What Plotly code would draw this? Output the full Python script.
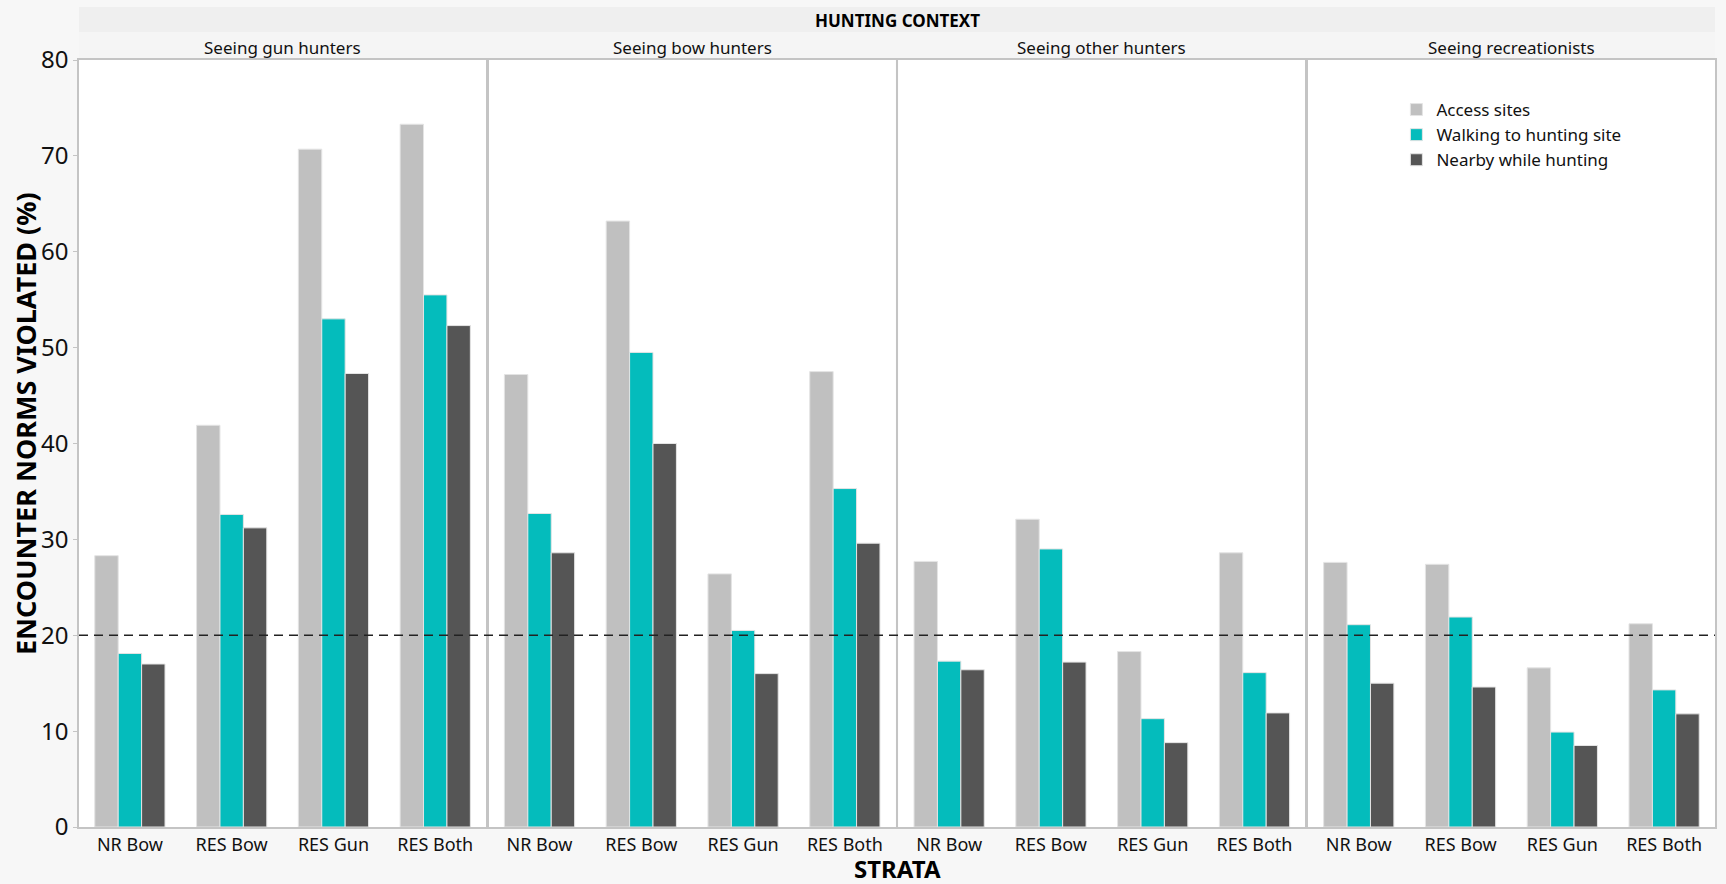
import plotly.graph_objects as go
from plotly.subplots import make_subplots

# ---------------- data ----------------
contexts = ["Seeing gun hunters", "Seeing bow hunters", "Seeing other hunters", "Seeing recreationists"]
strata = ["NR Bow", "RES Bow", "RES Gun", "RES Both"]
series_names = ["Access sites", "Walking to hunting site", "Nearby while hunting"]

# values ordered by context (4 strata each)
access_sites = [28.3, 41.9, 70.7, 73.3,
                47.2, 63.2, 26.4, 47.5,
                27.7, 32.1, 18.3, 28.6,
                27.6, 27.4, 16.6, 21.2]
walking_to_site = [18.1, 32.6, 53.0, 55.5,
                   32.7, 49.5, 20.5, 35.3,
                   17.3, 29.0, 11.3, 16.1,
                   21.1, 21.9, 9.9, 14.3]
nearby_hunting = [17.0, 31.2, 47.3, 52.3,
                  28.6, 40.0, 16.0, 29.6,
                  16.4, 17.2, 8.8, 11.9,
                  15.0, 14.6, 8.5, 11.8]
norm_threshold = 20
y_ticks = [0, 10, 20, 30, 40, 50, 60, 70, 80]

colors = ["#c0c0c0", "#04bcbc", "#555555"]
series_values = [access_sites, walking_to_site, nearby_hunting]

# ---------------- layout geometry (pixels) ----------------
W, H = 1726, 884
ML, MR, MT, MB = 79, 9, 60, 57
PW = W - ML - MR
PH = H - MT - MB


def px_x(px):
    return (px - ML) / PW


def px_y(py):
    return (H - MB - py) / PH


FONT = "Noto Sans, Open Sans, sans-serif"

fig = make_subplots(rows=1, cols=4, shared_yaxes=True,
                    horizontal_spacing=2.5 / PW)

for c in range(4):
    for s in range(3):
        fig.add_trace(go.Bar(
            x=strata,
            y=series_values[s][c * 4:(c + 1) * 4],
            name=series_names[s],
            marker=dict(color=colors[s], line=dict(color="#e4e4e4", width=1)),
            legendgroup=series_names[s],
            showlegend=(c == 0),
        ), row=1, col=c + 1)

axis_line = "#c4c4c4"
for c in range(1, 5):
    fig.update_xaxes(row=1, col=c, showline=True, mirror=True, linecolor=axis_line,
                     linewidth=1.5, showgrid=False, ticks="", zeroline=False,
                     tickfont=dict(family=FONT, size=18, color="#111111"),
                     ticklabelstandoff=1, fixedrange=True)
    fig.update_yaxes(row=1, col=c, showline=True, mirror=True, linecolor=axis_line,
                     linewidth=1.5, showgrid=False, zeroline=False,
                     range=[0, 80], tickvals=y_ticks, fixedrange=True)
fig.update_yaxes(row=1, col=1, ticks="outside", ticklen=4, tickcolor="#c4c4c4",
                 tickwidth=1.2, tickfont=dict(family=FONT, size=24, color="#111111"))

shapes = []
# header strips
shapes.append(dict(type="rect", xref="paper", yref="paper", x0=0, x1=1,
                   y0=px_y(32), y1=px_y(7), fillcolor="#efefef", line=dict(width=0), layer="below"))
shapes.append(dict(type="rect", xref="paper", yref="paper", x0=0, x1=1,
                   y0=px_y(60), y1=px_y(32), fillcolor="#f5f5f5", line=dict(width=0), layer="below"))
# threshold line
shapes.append(dict(type="line", xref="paper", yref="y", x0=0, x1=1,
                   y0=norm_threshold, y1=norm_threshold,
                   line=dict(color="#222222", width=1.6, dash="9px,6px"), layer="above"))

annotations = []
annotations.append(dict(text="<b>HUNTING CONTEXT</b>", xref="paper", yref="paper",
                        x=0.5, y=px_y(20), showarrow=False, xanchor="center", yanchor="middle",
                        font=dict(family=FONT, size=17, color="#000000")))
for i, ctx in enumerate(contexts):
    xa = fig.layout["xaxis" if i == 0 else f"xaxis{i + 1}"].domain
    annotations.append(dict(text=ctx, xref="paper", yref="paper",
                            x=(xa[0] + xa[1]) / 2, y=px_y(47), showarrow=False,
                            xanchor="center", yanchor="middle",
                            font=dict(family=FONT, size=17, color="#111111")))
annotations.append(dict(text="<b>STRATA</b>", xref="paper", yref="paper",
                        x=0.5, y=px_y(868), showarrow=False, xanchor="center", yanchor="middle",
                        font=dict(family=FONT, size=24, color="#000000")))
annotations.append(dict(text="<b>ENCOUNTER NORMS VIOLATED (%)</b>", xref="paper", yref="paper",
                        x=px_x(26), y=px_y(424), showarrow=False, textangle=-90,
                        xanchor="center", yanchor="middle",
                        font=dict(family=FONT, size=27, color="#000000")))

fig.update_layout(
    width=W, height=H,
    margin=dict(l=ML, r=MR, t=MT, b=MB),
    paper_bgcolor="#f7f7f7",
    plot_bgcolor="#ffffff",
    barmode="group",
    bargap=0.31,
    bargroupgap=0,
    shapes=shapes,
    annotations=annotations,
    showlegend=True,
    legend=dict(x=px_x(1398), y=px_y(92), xanchor="left", yanchor="top",
                bgcolor="rgba(0,0,0,0)", font=dict(family=FONT, size=17, color="#111111"),
                tracegroupgap=0, itemwidth=30),
    font=dict(family=FONT),
)

fig.write_html("out.html", config={"displayModeBar": False},
               post_script="document.body.style.margin='0';document.body.style.overflow='hidden';")
